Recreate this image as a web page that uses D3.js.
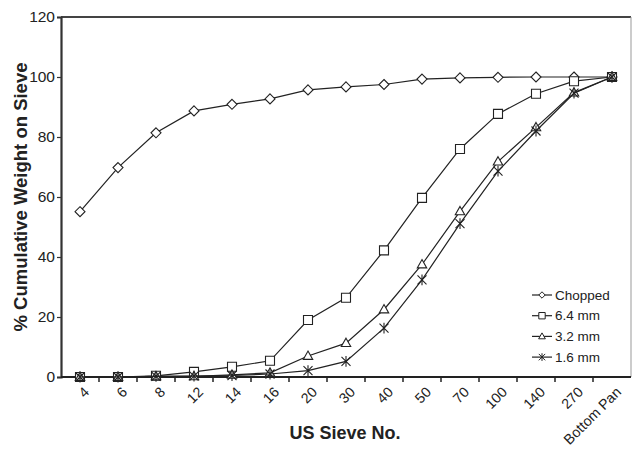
<!DOCTYPE html>
<html>
<head>
<meta charset="utf-8">
<script src="https://cdn.jsdelivr.net/npm/d3@7"></script>
<style>
  html, body { margin: 0; padding: 0; background: #fff; }
  svg text { font-family: "Liberation Sans", Arial, Helvetica, sans-serif; fill: #222; }
</style>
</head>
<body>
<svg id="chart" width="637" height="450"></svg>
<script>
// ---- data ----
const categories = ["4", "6", "8", "12", "14", "16", "20", "30", "40", "50", "70", "100", "140", "270", "Bottom Pan"];
const chopped = [55.1, 69.8, 81.4, 88.7, 90.9, 92.7, 95.7, 96.7, 97.5, 99.3, 99.7, 99.9, 100, 100, 100];
const mm64    = [0, 0, 0.4, 1.7, 3.4, 5.4, 19.0, 26.4, 42.2, 59.7, 76.0, 87.7, 94.4, 98.6, 100];
const mm32    = [0, 0, 0.2, 0.2, 0.7, 1.4, 7.0, 11.3, 22.5, 37.5, 55.2, 71.8, 83.2, 94.8, 100];
const mm16    = [0, 0, 0.2, 0.3, 0.5, 1.0, 2.1, 5.2, 16.3, 32.4, 51.1, 68.6, 82.0, 94.6, 100];
const seriesNames = ["Chopped", "6.4 mm", "3.2 mm", "1.6 mm"];
const markerTypes = ["diamond", "square", "triangle", "star"];
const yTicks = [0, 20, 40, 60, 80, 100, 120];

const series = [chopped, mm64, mm32, mm16].map((vals, i) => ({
  name: seriesNames[i], marker: markerTypes[i],
  points: vals.map((v, j) => ({ cat: categories[j], v }))
}));

// ---- layout ----
const svg = d3.select("#chart");
const L = 61, R = 631, T = 17, B = 377;

const xBand = d3.scaleBand().domain(categories).range([L, R]).paddingInner(0).paddingOuter(0);
const x = c => xBand(c) + xBand.bandwidth() / 2;
const y = d3.scaleLinear().domain([0, 120]).range([B, T]);

function markerPath(type, s) {
  switch (type) {
    case "diamond": return `M0,${-s}L${s},0L0,${s}L${-s},0Z`;
    case "square": return `M${-s},${-s}H${s}V${s}H${-s}Z`;
    case "triangle": return `M0,${-s*1.1}L${s*1.05},${s*0.75}L${-s*1.05},${s*0.75}Z`;
    case "star": return `M${-s},${-s}L${s},${s}M${-s},${s}L${s},${-s}M0,${-s*1.2}L0,${s*1.2}`;
  }
}

// frame: top and right
svg.append("line").attr("x1", L).attr("x2", R).attr("y1", T).attr("y2", T)
  .attr("stroke", "#444").attr("stroke-width", 2);
svg.append("line").attr("x1", R).attr("x2", R).attr("y1", T).attr("y2", B)
  .attr("stroke", "#999").attr("stroke-width", 1);

// y axis
const yAxis = d3.axisLeft(y).tickValues(yTicks).tickSize(4).tickPadding(2).tickFormat(d3.format("d"));
const gy = svg.append("g").attr("transform", `translate(${L},0)`).call(yAxis);
gy.select(".domain").attr("stroke", "#333").attr("stroke-width", 2.2);
gy.selectAll(".tick line").attr("stroke", "#333").attr("stroke-width", 1.2);
gy.selectAll(".tick text").attr("font-size", 15.5).attr("fill", "#222")
  .style("font-family", "'Liberation Sans', Arial, sans-serif");

// x axis (ticks at category boundaries, labels rotated)
const gx = svg.append("g").attr("transform", `translate(0,${B})`);
gx.append("line").attr("x1", L).attr("x2", R).attr("y1", 0).attr("y2", 0)
  .attr("stroke", "#222").attr("stroke-width", 2.2);
const boundaries = categories.map(c => xBand(c)).concat([R]);
gx.selectAll("line.tk").data(boundaries.slice(1, -1)).join("line").attr("class", "tk")
  .attr("x1", d => d).attr("x2", d => d).attr("y1", 0).attr("y2", 5)
  .attr("stroke", "#222").attr("stroke-width", 1.5);
gx.selectAll("text.lbl").data(categories).join("text").attr("class", "lbl")
  .attr("transform", d => `translate(${x(d) + 7},${13}) rotate(-45)`)
  .attr("text-anchor", "end").attr("dy", "0.3em")
  .attr("font-size", 14.2).text(d => d);

// axis titles
svg.append("text").attr("x", 345).attr("y", 439).attr("text-anchor", "middle")
  .attr("font-size", 18).attr("font-weight", "bold").attr("fill", "#111").text("US Sieve No.");
svg.append("text").attr("transform", `translate(27,197) rotate(-90)`).attr("text-anchor", "middle")
  .attr("font-size", 18.5).attr("font-weight", "bold").attr("fill", "#111").text("% Cumulative Weight on Sieve");

// series
const line = d3.line().x(d => x(d.cat)).y(d => y(d.v));
series.forEach(s => {
  const g = svg.append("g");
  g.append("path").datum(s.points).attr("d", line)
    .attr("fill", "none").attr("stroke", "#222").attr("stroke-width", 1.2);
  g.selectAll("path.mk").data(s.points).join("path").attr("class", "mk")
    .attr("transform", d => `translate(${x(d.cat)},${y(d.v)})`)
    .attr("d", markerPath(s.marker, s.marker === "diamond" ? 5 : 4.5))
    .attr("fill", s.marker === "star" ? "none" : "#fff")
    .attr("stroke", "#222").attr("stroke-width", 1.1);
});

// legend
const lg = svg.append("g");
series.forEach((s, i) => {
  const yy = 295 + i * 20.7;
  lg.append("line").attr("x1", 532).attr("x2", 552).attr("y1", yy).attr("y2", yy)
    .attr("stroke", "#222").attr("stroke-width", 1.2);
  lg.append("path").attr("transform", `translate(542,${yy})`)
    .attr("d", markerPath(s.marker, 3.2))
    .attr("fill", s.marker === "star" ? "none" : "#fff")
    .attr("stroke", "#222").attr("stroke-width", 1);
  lg.append("text").attr("x", 555).attr("y", yy).attr("dy", "0.35em")
    .attr("font-size", 13.5).text(s.name);
});
</script>
</body>
</html>
